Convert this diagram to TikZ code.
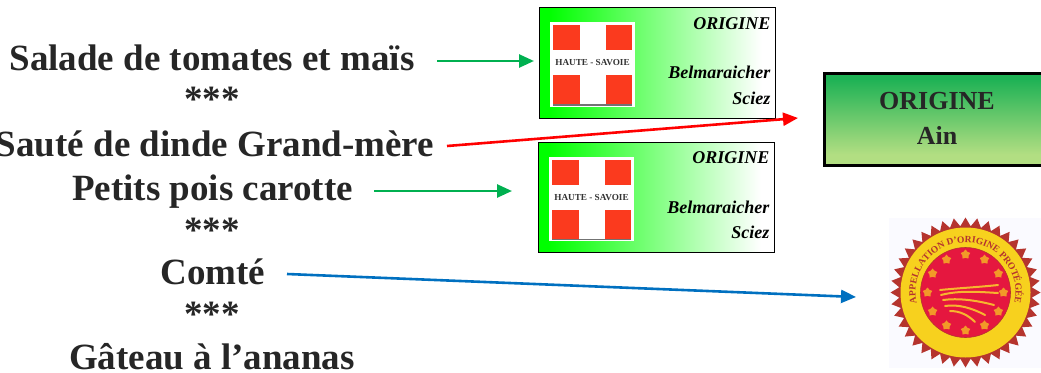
\documentclass[tikz,border=0pt]{standalone}
\usepackage{fontspec}
\setmainfont{Liberation Serif}
\usetikzlibrary{arrows.meta,calc,decorations.text,shapes.geometric}
\definecolor{inkdark}{HTML}{262626}
\definecolor{arrowgreen}{HTML}{00B050}
\definecolor{arrowblue}{HTML}{0070C0}
\definecolor{flagred}{HTML}{FB3A1E}
\definecolor{sealred}{HTML}{E5173F}
\definecolor{sealyellow}{HTML}{F7D11E}
\definecolor{sealdark}{HTML}{B5342E}
\definecolor{sealfield}{HTML}{F7B52E}
\definecolor{ainlow}{HTML}{B2DE82}
\definecolor{ainhigh}{HTML}{1EB255}
\pgfdeclarehorizontalshading{labelgreen}{100bp}{color(0bp)=(green);color(27bp)=(green);color(72bp)=(white);color(100bp)=(white)}
\pgfdeclareverticalshading{ainbox}{100bp}{color(0bp)=(ainlow);color(31bp)=(ainlow);color(72bp)=(ainhigh);color(100bp)=(ainhigh)}
\tikzset{
  menu/.style={font=\fontsize{37}{37}\selectfont\bfseries,text=inkdark,inner sep=0pt,anchor=base},
  flow/.style={line width=2.6pt,-{Triangle[length=15pt,width=13pt]}},
  labeltext/.style={font=\fontsize{18}{18}\selectfont\bfseries\itshape,text=black,anchor=base east,inner sep=0pt},
  labelbox/.style={draw=black,line width=.9pt,minimum width=236pt,minimum height=110.5pt,anchor=north west,inner sep=0pt,outer sep=0pt,shading=labelgreen,shading angle=0},
  redsq/.style={fill=flagred,draw=none},
  aintext/.style={font=\fontsize{26}{26}\selectfont\bfseries,text=inkdark,inner sep=0pt,anchor=base}
}
\newcommand{\provlabel}[3]{%
  \node[labelbox] (#1) at (#2,#3) {};
  \begin{scope}[shift={(#2,#3)}]
    \fill[white] (10.5,14.5) rectangle (95.5,99);
    \fill[redsq] (13.5,17.5) rectangle (40.5,42.5);
    \fill[redsq] (66.5,17.5) rectangle (92.5,42.5);
    \fill[redsq] (13.5,67.5) rectangle (40.5,96.5);
    \fill[redsq] (66.5,67.5) rectangle (92.5,96.5);
    \fill[black!55] (13.5,96.5) rectangle (92.5,98);
    \node[font=\fontsize{9.2}{9.2}\selectfont\bfseries,text=black!80,inner sep=0pt] (#1flag) at (53,55.5) {HAUTE - SAVOIE};
    \node[labeltext] (#1a) at (231,21.5) {ORIGINE};
    \node[labeltext] (#1b) at (231,71) {Belmaraicher};
    \node[labeltext] (#1c) at (231,96.5) {Sciez};
  \end{scope}}
\begin{document}
\begin{tikzpicture}[x=1pt,y=-1pt]
\useasboundingbox (0,0) rectangle (1041,372);
\clip (0,0) rectangle (1041,372);
% menu
\node[menu] (m1) at (212,70) {Salade de tomates et maïs};
\node[menu] (s1) at (212,111) {***};
\node[menu] (m2) at (215,156) {Sauté de dinde Grand-mère};
\node[menu] (m3) at (212.5,200) {Petits pois carotte};
\node[menu] (s2) at (212,242) {***};
\node[menu] (m4) at (213,284) {Comté};
\node[menu] (s3) at (212,326) {***};
\node[menu] (m5) at (212,369) {Gâteau à l’ananas};
% origin labels
\provlabel{la}{539.5}{7.5}
\provlabel{lb}{538.5}{142.3}
% Ain box
\node[draw=black,line width=2.5pt,minimum width=240pt,minimum height=92pt,anchor=north west,inner sep=0pt,outer sep=0pt,shading=ainbox] (ain) at (824.5,73.5) {};
\node[aintext] (ain1) at (937,109) {ORIGINE};
\node[aintext] (ain2) at (937,144) {Ain};
% seal
\fill[blue!2] (889,218) rectangle (1041,368);
\coordinate (seal) at (965.5,292.5);
\node[star,star points=40,star point ratio=1.13,minimum size=150pt,inner sep=0pt,fill=sealdark,draw=none] (sealstar) at (seal) {};
\node[circle,minimum size=130pt,inner sep=0pt,fill=sealyellow,draw=none] (sealring) at (seal) {};
\node[circle,minimum size=90pt,inner sep=0pt,fill=sealred,draw=sealdark,line width=.6pt] (sealcore) at (seal) {};
\foreach \a in {0,30,...,330}
  \node[star,star points=5,minimum size=10pt,inner sep=0pt,fill=sealyellow!70!sealred,draw=none] at ($(seal)+(\a:38pt)$) {};
\path[decorate,decoration={text along path,text align=center,
  text={|\fontsize{9.5}{9.5}\selectfont\bfseries\color{sealdark}|APPELLATION D’ORIGINE PROTÉGÉE}}]
  (seal) ++(228:50pt) arc[start angle=228,end angle=-48,radius=50pt];
\draw[sealfield,line width=2pt,line cap=round] (940,290) .. controls (960,288) and (980,287) .. (998,285);
\draw[sealfield,line width=2pt,line cap=round] (941,295) .. controls (960,290) and (980,292) .. (998,293);
\draw[sealfield,line width=2pt,line cap=round] (943,300) .. controls (958,298) and (975,300) .. (994,305);
\draw[sealfield,line width=2pt,line cap=round] (945,306) .. controls (958,304) and (972,308) .. (985,315);
\draw[sealfield,line width=2pt,line cap=round] (950,311) .. controls (960,311) and (968,315) .. (975,322);
% connectors
\coordinate (g1a) at (437,61); \coordinate (g1b) at (534,61);
\coordinate (ra) at (447,146); \coordinate (rb) at (798,118);
\coordinate (g2a) at (374,191); \coordinate (g2b) at (512,191);
\coordinate (ba) at (287,274); \coordinate (bb) at (856,297);
\draw[flow,arrowgreen] (g1a) -- (g1b);
\draw[flow,red] (ra) -- (rb);
\draw[flow,arrowgreen] (g2a) -- (g2b);
\draw[flow,arrowblue] (ba) -- (bb);
\end{tikzpicture}
\end{document}
